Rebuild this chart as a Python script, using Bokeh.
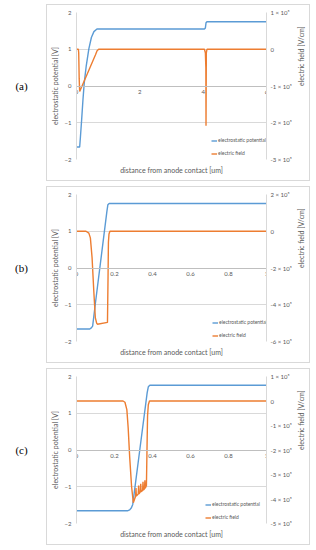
import math
from bokeh.plotting import figure
from bokeh.models import Range1d, LinearAxis, FixedTicker, Legend, LegendItem, Label, Spacer
from bokeh.layouts import column, row
from bokeh.embed import file_html
from bokeh.resources import INLINE

# ---------------- data ----------------
# panel (a)
pot_a_x = [0, 0.10, 0.123, 0.164, 0.205, 0.246, 0.308, 0.39, 0.47, 0.55, 0.646, 0.75, 4.04, 4.07, 4.09, 4.12, 6.0]
pot_a_y = [-1.66, -1.66, -1.40, -0.90, -0.36, 0.10, 0.55, 1.01, 1.32, 1.48, 1.55, 1.55, 1.55, 1.58, 1.72, 1.75, 1.75]
fld_a_x = [0, 0.06, 0.07, 0.085, 0.10, 0.40, 0.60, 0.65, 0.70, 4.04, 4.07, 4.085, 4.09, 4.10, 4.12, 6.0]
fld_a_y = [0, 0, -0.1e5, -0.8e5, -1.15e5, -0.55e5, -0.15e5, -0.04e5, 0, 0, -0.1e5, -0.5e5, -2.08e5, -0.1e5, 0, 0]

# panel (b)
pot_b_x = [0, 0.07, 0.078, 0.085, 0.099, 0.16, 0.165, 0.172, 1.0]
pot_b_y = [-1.66, -1.66, -1.63, -1.58, -0.98, 1.54, 1.72, 1.755, 1.755]
fld_b_x = [0, 0.05, 0.065, 0.073, 0.082, 0.091, 0.099, 0.106, 0.110, 0.163, 0.166, 0.168, 0.171, 0.176, 1.0]
fld_b_y = [0, 0, -0.1e5, -0.36e5, -1.44e5, -3.25e5, -4.7e5, -5.0e5, -5.06e5, -4.96e5, -2.5e5, -0.6e5, -0.15e5, 0, 0]

# panel (c)
pot_c_x = [0, 0.268, 0.28, 0.289, 0.296, 0.333, 0.372, 0.378, 0.386, 1.0]
pot_c_y = [-1.655, -1.655, -1.63, -1.57, -1.48, 0.0, 1.56, 1.72, 1.76, 1.76]
fld_c_x = [0, 0.245, 0.255, 0.265, 0.272, 0.28, 0.29, 0.299, 0.311, 0.313, 0.315, 0.325, 0.327, 0.329,
           0.336, 0.338, 0.340, 0.348, 0.350, 0.352, 0.358, 0.360, 0.362, 0.368, 0.371, 0.374, 0.378, 0.384, 1.0]
fld_c_y = [0, 0, -0.05e5, -0.35e5, -1.1e5, -2.3e5, -3.5e5, -4.15e5, -3.89e5, -3.55e5, -3.88e5, -3.80e5, -3.45e5, -3.79e5,
           -3.71e5, -3.38e5, -3.70e5, -3.65e5, -3.30e5, -3.64e5, -3.58e5, -3.24e5, -3.56e5, -3.45e5, -2.0e5, -0.6e5, -0.15e5, 0, 0]

# axes / ticks
left_ticks = [-2, -1, 0, 1, 2]
x_ticks_a = [0, 2, 4, 6]
x_labels_a = ["0", "2", "4", "6"]
x_ticks_bc = [0, 0.2, 0.4, 0.6, 0.8, 1]
x_labels_bc = ["0", "0.2", "0.4", "0.6", "0.8", "1"]
r_ticks_a = [1e5, 0, -1e5, -2e5, -3e5]
r_labels_a = ["1 × 10⁵", "0", "-1 × 10⁵", "-2 × 10⁵", "-3 × 10⁵"]
r_ticks_b = [2e5, 0, -2e5, -4e5, -6e5]
r_labels_b = ["2 × 10⁵", "0", "-2 × 10⁵", "-4 × 10⁵", "-6 × 10⁵"]
r_ticks_c = [1e5, 0, -1e5, -2e5, -3e5, -4e5, -5e5]
r_labels_c = ["1 × 10⁵", "0", "-1 × 10⁵", "-2 × 10⁵", "-3 × 10⁵", "-4 × 10⁵", "-5 × 10⁵"]

panel_names = ["(a)", "(b)", "(c)"]
series_names = ["electrostatic potential", "electric field"]
left_title = "electrostatic potential [V]"
right_title = "electric field [V/cm]"
x_title = "distance from anode contact [um]"

BLUE = "#5B9BD5"
ORANGE = "#ED7D31"
GRID = "#d9d9d9"
TXT = "#595959"
FONT = "Lato"

W_LAB = 46
W_MAIN = 264
H = 177


def style_axis(ax):
    ax.major_tick_out = 0
    ax.major_tick_in = 0
    ax.minor_tick_out = 0
    ax.minor_tick_in = 0
    ax.major_label_text_font = FONT
    ax.major_label_text_font_size = "6px"
    ax.major_label_text_color = TXT
    ax.axis_label_text_font = FONT
    ax.axis_label_text_font_size = "7px"
    ax.axis_label_text_font_style = "normal"
    ax.axis_label_text_color = TXT


def make_panel(name, xmax, xt, xl, px, py, fx, fy, rrange, rt, rl, leg_x):
    lab = figure(width=W_LAB, height=H + 2, x_range=Range1d(0, W_LAB), y_range=Range1d(0, H + 2),
                 output_backend="svg", toolbar_location=None, min_border=0,
                 x_axis_type=None, y_axis_type=None, outline_line_color=None)
    lab.grid.grid_line_color = None
    lab.add_layout(Label(x=21, y=(H + 2) / 2, text=name, text_align="center", text_baseline="middle",
                         text_font="Liberation Serif", text_font_size="11px", text_color="#000000"))

    p = figure(width=W_MAIN, height=H, x_range=Range1d(0, xmax), y_range=Range1d(-2, 2),
               output_backend="svg", toolbar_location=None,
               min_border_left=27, min_border_right=42, min_border_top=7, min_border_bottom=23,
               outline_line_color=None, styles={"border": "1px solid #d9d9d9"})
    p.extra_y_ranges = {"field": Range1d(*rrange)}

    # left axis
    ya = p.yaxis[0]
    ya.ticker = FixedTicker(ticks=left_ticks)
    style_axis(ya)
    ya.axis_line_color = GRID
    ya.major_label_standoff = 5
    ya.axis_label = left_title
    ya.axis_label_standoff = 3

    # bottom axis (title only)
    xa = p.xaxis[0]
    xa.ticker = FixedTicker(ticks=[])
    style_axis(xa)
    xa.axis_line_color = None
    xa.major_label_standoff = 0
    xa.axis_label = x_title
    xa.axis_label_standoff = 6

    # x axis crossing at zero
    x0 = LinearAxis(fixed_location=0, ticker=FixedTicker(ticks=xt),
                    major_label_overrides=dict(zip(xt, xl)))
    style_axis(x0)
    x0.axis_line_color = "#bfbfbf"
    x0.major_label_standoff = 4
    p.add_layout(x0, "below")

    # right axis
    ra = LinearAxis(y_range_name="field", ticker=FixedTicker(ticks=rt),
                    major_label_overrides=dict(zip(rt, rl)))
    style_axis(ra)
    ra.axis_line_color = GRID
    ra.major_label_standoff = 4
    ra.axis_label = right_title
    ra.axis_label_standoff = 6
    try:
        ra.axis_label_orientation = math.pi / 2
    except Exception:
        pass
    p.add_layout(ra, "right")

    p.ygrid.grid_line_color = GRID
    p.ygrid.grid_line_width = 1
    p.xgrid.grid_line_color = None

    r1 = p.line(px, py, line_color=BLUE, line_width=1.4)
    r2 = p.line(fx, fy, line_color=ORANGE, line_width=1.4, y_range_name="field")

    leg = Legend(items=[LegendItem(label=series_names[0], renderers=[r1]),
                        LegendItem(label=series_names[1], renderers=[r2])],
                 location=(leg_x, 3), orientation="vertical",
                 label_text_font=FONT, label_text_font_size="5px", label_text_color=TXT,
                 glyph_width=6, glyph_height=5, label_height=5, label_standoff=1,
                 spacing=7, padding=0, margin=0,
                 background_fill_alpha=0, border_line_color=None)
    p.add_layout(leg)
    return row(lab, p, spacing=0)


ra_ = make_panel(panel_names[0], 6, x_ticks_a, x_labels_a, pot_a_x, pot_a_y, fld_a_x, fld_a_y,
                 (-3e5, 1e5), r_ticks_a, r_labels_a, 135)
rb_ = make_panel(panel_names[1], 1, x_ticks_bc, x_labels_bc, pot_b_x, pot_b_y, fld_b_x, fld_b_y,
                 (-6e5, 2e5), r_ticks_b, r_labels_b, 136)
rc_ = make_panel(panel_names[2], 1, x_ticks_bc, x_labels_bc, pot_c_x, pot_c_y, fld_c_x, fld_c_y,
                 (-5e5, 1e5), r_ticks_c, r_labels_c, 129)

layout = column(Spacer(width=10, height=1), ra_, rb_, rc_, spacing=3)
open("out.html", "w").write(file_html(layout, INLINE))
